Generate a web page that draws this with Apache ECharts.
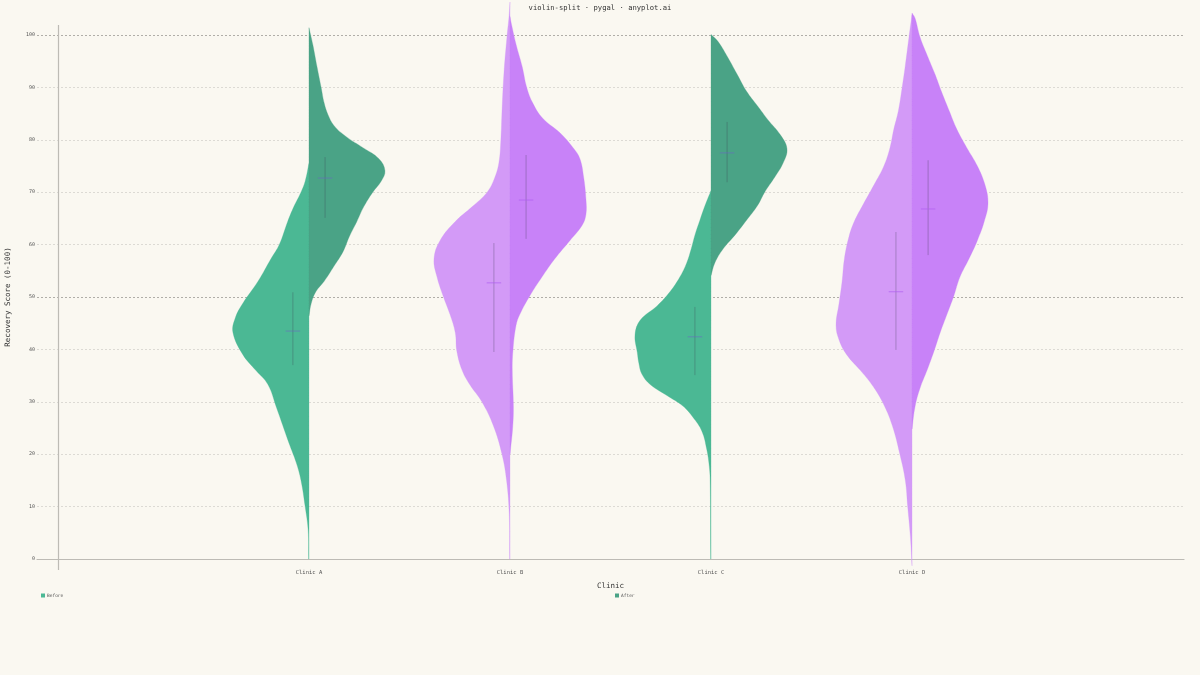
<!DOCTYPE html>
<html>
<head>
<meta charset="utf-8">
<script src="https://cdn.jsdelivr.net/npm/echarts@6/dist/echarts.min.js"></script>
<style>
  html, body { margin: 0; padding: 0; background: #FAF8F1; }
  #main { width: 1200px; height: 675px; }
</style>
</head>
<body>
<div id="main"></div>
<script>
var clinics = ['Clinic A', 'Clinic B', 'Clinic C', 'Clinic D'];
var yTicks = [0, 10, 20, 30, 40, 50, 60, 70, 80, 90, 100];

// density profiles, [score, relative half width]
var beforeA = [[0,0.004],[5.4,0.01],[10,0.05],[15,0.105],[18.5,0.17],[22,0.26],[29,0.43],[33.3,0.54],[36,0.7],[39,0.87],[43.2,1],[46,0.97],[48.8,0.87],[53,0.67],[57.3,0.5],[60,0.39],[64.4,0.28],[67.2,0.2],[70,0.105],[72.1,0.05],[75.5,0]];
var afterA = [[46.4,0],[48.8,0.03],[51,0.09],[53,0.2],[55.9,0.33],[58.7,0.45],[61.5,0.53],[64.4,0.63],[67.2,0.72],[70,0.84],[72.1,0.95],[74.1,1],[76.4,0.92],[78.5,0.71],[80.6,0.49],[82.7,0.33],[84.8,0.25],[87,0.2],[90,0.16],[94,0.105],[98.2,0.05],[101.4,0]];
var beforeB = [[0,0.004],[8.6,0.01],[15,0.045],[20,0.105],[25.5,0.22],[30,0.37],[33.3,0.53],[36,0.63],[39.7,0.7],[43.2,0.72],[46.7,0.79],[50.2,0.88],[53.8,0.96],[57.3,1],[60.8,0.92],[64.4,0.72],[67.2,0.5],[70,0.3],[72.8,0.2],[75.7,0.145],[80,0.12],[85.5,0.105],[92.6,0.08],[99.6,0.04],[103.5,0.013],[106.3,0]];
var afterB = [[20,0],[25,0.035],[29,0.045],[36,0.03],[40,0.04],[44.6,0.08],[46.7,0.13],[50.2,0.26],[53.8,0.42],[57.3,0.59],[60.8,0.79],[63.7,0.95],[65.8,1],[68.6,1],[72.8,0.97],[76.4,0.92],[78.5,0.83],[81.3,0.66],[84.1,0.43],[87,0.3],[90,0.22],[94,0.16],[98.2,0.08],[102.5,0.013],[103.5,0]];
var beforeC = [[0,0.004],[14.2,0.01],[17.6,0.022],[21,0.057],[24.4,0.12],[27.1,0.24],[29.2,0.37],[31.2,0.58],[33.3,0.8],[35.3,0.91],[37.4,0.95],[39.4,0.97],[42.8,1],[45.6,0.93],[48.3,0.71],[51,0.54],[53.8,0.41],[56.5,0.32],[59.2,0.26],[61.9,0.21],[64.7,0.145],[67.4,0.08],[70.3,0]];
var afterC = [[54.1,0],[56.5,0.05],[59.2,0.16],[61.9,0.32],[64.7,0.47],[67.4,0.61],[70.1,0.71],[72.9,0.84],[75.6,0.95],[78.3,1],[81,0.91],[83.8,0.75],[86.5,0.61],[89.2,0.47],[92.6,0.34],[96,0.21],[98.8,0.09],[100.1,0]];
var beforeD = [[-1.3,0],[4.4,0.022],[10,0.057],[15,0.088],[20,0.16],[25.5,0.26],[30,0.39],[33.3,0.53],[36,0.68],[39,0.86],[41.8,0.96],[44.6,1],[48.8,0.96],[53,0.92],[57.3,0.89],[61.5,0.83],[64.4,0.76],[67.2,0.66],[71.4,0.5],[75,0.37],[78.5,0.29],[82,0.24],[85.5,0.18],[90,0.13],[94,0.09],[99.6,0.04],[103.9,0]];
var afterD = [[24.8,0],[29.1,0.04],[32.6,0.105],[36.1,0.2],[39.7,0.29],[43.2,0.37],[46.7,0.46],[50.2,0.55],[53.8,0.63],[57.3,0.75],[60.8,0.86],[64.4,0.95],[67.9,1],[71.4,0.96],[75,0.86],[78.5,0.72],[82,0.59],[85.5,0.49],[89.1,0.39],[92.6,0.3],[96.1,0.2],[99.6,0.105],[103.2,0.04],[104.2,0]];

// [low, high, middle] of the inner marker
var beforeStats = [[37.0,50.9,43.5],[39.5,60.3,52.7],[35.1,48.1,42.4],[39.9,62.4,51.0]];
var afterStats = [[65.1,76.7,72.7],[61.1,77.1,68.5],[71.9,83.4,77.5],[58.0,76.1,66.8]];

var beforeProfiles = [beforeA, beforeB, beforeC, beforeD];
var afterProfiles = [afterA, afterB, afterC, afterD];

var beforeColors = ['#4BB894', '#D39AF7', '#4BB894', '#D39AF7'];
var afterColors = ['#4AA386', '#C882F8', '#4AA386', '#C882F8'];
var midColors = ['rgba(110,100,200,0.55)', 'rgba(175,95,240,0.7)', 'rgba(110,100,200,0.55)', 'rgba(175,95,240,0.7)'];

var HALF = 0.378;   // widest half of a violin, in category units
var MARK = 0.08;    // offset of the inner marker
var TICK = 0.036;

function makeHalf(side, profiles, stats, colors) {
  return function (params, api) {
    var i = api.value(0);
    var prof = profiles[i];
    var c = i + 1;
    var pts = [];
    pts.push(api.coord([c, prof[0][0]]));
    for (var k = 0; k < prof.length; k++) {
      pts.push(api.coord([c + side * prof[k][1] * HALF, prof[k][0]]));
    }
    for (var k = prof.length - 1; k >= 0; k--) {
      pts.push(api.coord([c, prof[k][0]]));
    }
    var s = stats[i];
    var mx = c + side * MARK;
    var lo = api.coord([mx, s[0]]);
    var hi = api.coord([mx, s[1]]);
    var m1 = api.coord([mx - TICK, s[2]]);
    var m2 = api.coord([mx + TICK, s[2]]);
    return {
      type: 'group',
      children: [
        { type: 'polygon', shape: { points: pts, smooth: 0.4 },
          style: { fill: colors[i], stroke: colors[i], lineWidth: 0.3 } },
        { type: 'line', shape: { x1: lo[0], y1: lo[1], x2: hi[0], y2: hi[1] },
          style: { stroke: 'rgba(60,60,80,0.3)', lineWidth: 1 } },
        { type: 'line', shape: { x1: m1[0], y1: m1[1], x2: m2[0], y2: m2[1] },
          style: { stroke: midColors[i], lineWidth: 1 } }
      ]
    };
  };
}

var font = 'DejaVu Sans Mono';
var chart = echarts.init(document.getElementById('main'));

var option = {
  backgroundColor: '#FAF8F1',
  animation: false,
  title: {
    text: 'violin-split · pygal · anyplot.ai',
    left: 'center', top: 0,
    textStyle: { fontFamily: font, fontSize: 7.2, fontWeight: 'normal', color: '#333' }
  },
  legend: [
    { data: ['Before'], left: 36, top: 588, itemWidth: 4, itemHeight: 4, itemGap: 2,
      icon: 'rect', textStyle: { fontFamily: font, fontSize: 4.5, color: '#555', padding: [0, 0, 0, -3] } },
    { data: ['After'], left: 610, top: 588, itemWidth: 4, itemHeight: 4, itemGap: 2,
      icon: 'rect', textStyle: { fontFamily: font, fontSize: 4.5, color: '#555', padding: [0, 0, 0, -3] } }
  ],
  grid: { left: 37, right: 16, top: 35, bottom: 116, outerBoundsMode: 'none' },
  xAxis: {
    type: 'value', min: -0.353, max: 5.353,
    name: 'Clinic', nameLocation: 'middle', nameGap: 23,
    nameTextStyle: { fontFamily: font, fontSize: 7.5, color: '#333' },
    axisLine: { lineStyle: { color: '#BDBBB5', width: 1.2 } },
    axisTick: { show: false },
    splitLine: { show: false },
    axisLabel: {
      customValues: [1, 2, 3, 4],
      formatter: function (v) { return clinics[Math.round(v) - 1]; },
      fontFamily: font, fontSize: 5.5, color: '#555', margin: 11
    }
  },
  yAxis: {
    type: 'value', min: yTicks[0], max: yTicks[yTicks.length - 1], interval: 10,
    name: 'Recovery Score (0-100)', nameLocation: 'middle', nameGap: 25,
    nameTextStyle: { fontFamily: font, fontSize: 7.5, color: '#333' },
    axisLine: { show: false },
    axisTick: { show: false },
    axisLabel: { fontFamily: font, fontSize: 5, color: '#555', margin: 2 },
    splitLine: {
      lineStyle: {
        color: ['#B0AEA8', '#DCDAD4', '#DCDAD4', '#DCDAD4', '#DCDAD4'],
        type: [2, 2], width: 1
      }
    }
  },
  graphic: [
    { type: 'line', shape: { x1: 58.5, y1: 25, x2: 58.5, y2: 570 },
      style: { stroke: '#BDBBB5', lineWidth: 1.2 }, z: 1 }
  ],
  series: [
    {
      name: 'Before', type: 'custom', clip: false,
      itemStyle: { color: '#4BB894' },
      renderItem: makeHalf(-1, beforeProfiles, beforeStats, beforeColors),
      data: clinics.map(function (n, i) { return [i]; })
    },
    {
      name: 'After', type: 'custom', clip: false,
      itemStyle: { color: '#4AA386' },
      renderItem: makeHalf(1, afterProfiles, afterStats, afterColors),
      data: clinics.map(function (n, i) { return [i]; })
    }
  ]
};

chart.setOption(option);
</script>
</body>
</html>
